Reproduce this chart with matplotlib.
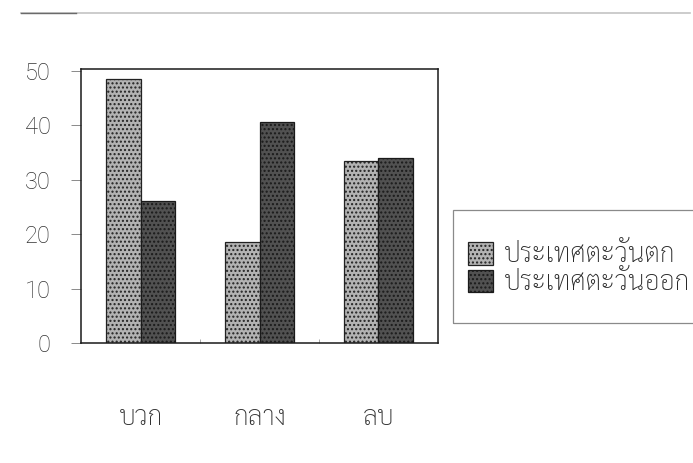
import matplotlib
matplotlib.use("Agg")
import matplotlib.pyplot as plt
from matplotlib.patches import Rectangle
import numpy as np

# data
categories = ["บวก", "กลาง", "ลบ"]
west = [48.5, 18.6, 33.5]
east = [26.1, 40.7, 34.0]
series_names = ["ประเทศตะวันตก", "ประเทศตะวันออก"]
yticks = [0, 10, 20, 30, 40, 50]

THAI = ["Sarabun", "Niramit", "Noto Sans Thai Looped", "Noto Sans Thai", "DejaVu Sans"]
NUM = ["Roboto", "Liberation Sans", "DejaVu Sans"]
LIGHT = "#b3b3b3"; DARK = "#515151"
plt.rcParams["hatch.color"] = "#8a8a8a"

fig = plt.figure(figsize=(6.93, 4.63), dpi=100)
ax = fig.add_axes([0.117, 0.259, 0.515, 0.591])

x = np.arange(len(categories))
w = 0.29
ax.bar(x - w/2, west, w, color=LIGHT, edgecolor="#222222", linewidth=0.9, hatch="....", label=series_names[0])
ax.bar(x + w/2, east, w, color=DARK, edgecolor="#1a1a1a", linewidth=0.9, hatch="....", label=series_names[1])

ax.set_xlim(-0.5, 2.5)
ax.set_ylim(0, 50.3)
ax.set_yticks(yticks)
ax.set_yticklabels([str(t) for t in yticks], family=NUM, fontsize=17, weight="light", color="#333333")
ax.tick_params(axis="y", length=7, width=0.6, color="#777777", pad=15)
ax.set_xticks(x)
ax.set_xticklabels(categories, family=THAI, fontsize=19, weight="light", color="#333333")
ax.tick_params(axis="x", length=0, pad=44)
ax.set_xticks([0.5, 1.5], minor=True)
ax.tick_params(axis="x", which="minor", direction="in", length=3, width=0.6, color="#999999")
for s in ax.spines.values():
    s.set_color("#1a1a1a"); s.set_linewidth(1.1)

# legend box (runs off the right edge like the scan)
fig.patches.append(Rectangle((0.654, 0.302), 0.40, 0.244, transform=fig.transFigure,
                             fill=False, edgecolor="#8a8a8a", linewidth=0.9))
handles, labels = ax.get_legend_handles_labels()
fig.legend(handles, labels, loc="center left", bbox_to_anchor=(0.675, 0.419),
           frameon=False, prop={"family": THAI, "size": 19, "weight": "light"},
           handlelength=0.95, handleheight=0.95, handletextpad=0.42, labelspacing=0.05,
           borderpad=0, borderaxespad=0, labelcolor="#2a2a2a")

# faint scan line at the top
fig.add_artist(plt.Line2D([0.03, 0.995], [0.972, 0.972], transform=fig.transFigure,
                          color="#c4c4c4", linewidth=1.2))
fig.add_artist(plt.Line2D([0.03, 0.11], [0.972, 0.972], transform=fig.transFigure,
                          color="#6a6a6a", linewidth=1.0))

fig.savefig("out.png", dpi=100, facecolor="white")
